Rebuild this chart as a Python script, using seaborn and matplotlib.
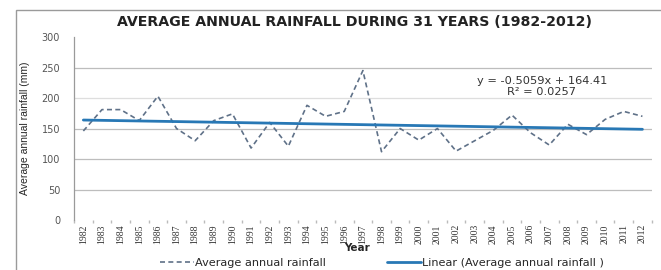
import numpy as np
import pandas as pd
import matplotlib
matplotlib.use("Agg")
import matplotlib.pyplot as plt
import seaborn as sns
from matplotlib.patches import Rectangle

years = list(range(1982, 2013))
rainfall = [146, 181, 181, 163, 203, 150, 130, 163, 174, 118, 160, 121, 188, 170, 178,
            245, 112, 150, 131, 150, 113, 130, 147, 172, 143, 123, 157, 140, 165, 178, 170]
trend_slope = -0.5059
trend_intercept = 164.41
r_squared = 0.0257
y_ticks = [0, 50, 100, 150, 200, 250, 300]

sns.set_theme(style="white")
plt.rcParams['font.family'] = ['DejaVu Sans']

df = pd.DataFrame({"idx": np.arange(len(years)), "year": years, "rain": rainfall})
df["trend"] = trend_slope * (df["idx"] + 1) + trend_intercept

fig = plt.figure(figsize=(6.61, 2.70), dpi=100)
ax = fig.add_axes([0.112, 0.185, 0.874, 0.678])

# outer chart frame
fig.patches.append(Rectangle((16 / 661, -0.1), 1.2, (1 - 10 / 270) + 0.1,
                             transform=fig.transFigure, fill=False,
                             edgecolor="#9a9a9a", linewidth=1.0))

for v in y_ticks[1:-1]:
    ax.axhline(v, color="#bdbdbd" if v != 200 else "#dedede", linewidth=0.9, zorder=0)

sns.lineplot(data=df, x="idx", y="rain", ax=ax, color="#5f7188", linewidth=1.2,
             linestyle=(0, (3, 2)), label="Average annual rainfall")
sns.lineplot(data=df, x="idx", y="trend", ax=ax, color="#2878b5", linewidth=2.0,
             label="Linear (Average annual rainfall )")

ax.set_xlim(-0.5, len(years) - 0.5)
ax.set_ylim(0, 300)
ax.set_yticks(y_ticks)
ax.set_yticklabels([str(v) for v in y_ticks], fontsize=7, color="#555555")
ax.set_xticks(df["idx"])
ax.set_xticklabels([str(y) for y in years], rotation=90, fontsize=7,
                   family=["Liberation Serif", "DejaVu Serif"], color="#333333")
ax.set_xticks(np.arange(-0.5, len(years), 1), minor=True)
ax.tick_params(axis="x", which="major", length=0, pad=3)
ax.tick_params(axis="x", which="minor", length=2, color="#bbbbbb", bottom=True)
ax.tick_params(axis="y", length=0, pad=10)

for s in ["top", "right", "bottom"]:
    ax.spines[s].set_visible(False)
ax.spines["left"].set_color("#9a9a9a")
ax.spines["left"].set_linewidth(0.9)

ax.set_xlabel("Year", fontsize=7.5, fontweight="bold")
ax.set_ylabel("Average annual rainfall (mm)", fontsize=7.5,
              family=["Liberation Sans", "DejaVu Sans"])
ax.xaxis.set_label_coords(0.49, -0.153)
ax.xaxis.label.set_va("center")
ax.yaxis.set_label_coords(-0.077, 0.5)

ax.text(0.81, 0.76, f"y = {trend_slope}x + {trend_intercept}", transform=ax.transAxes,
        ha="center", va="center", fontsize=8.2, color="#333333")
ax.text(0.81, 0.70, f"R² = {r_squared}", transform=ax.transAxes,
        ha="center", va="center", fontsize=8.2, color="#333333")

fig.suptitle("AVERAGE ANNUAL RAINFALL DURING 31 YEARS (1982-2012)", x=0.537, y=0.918,
             va="center", fontsize=10.2, fontweight="bold", color="#222222")

ax.legend(loc="center", bbox_to_anchor=(0.533, -0.235), ncol=2, frameon=False,
          fontsize=8.1, handlelength=3, columnspacing=5.5, borderaxespad=0,
          handletextpad=0.1)

fig.savefig("out.png", dpi=100)
